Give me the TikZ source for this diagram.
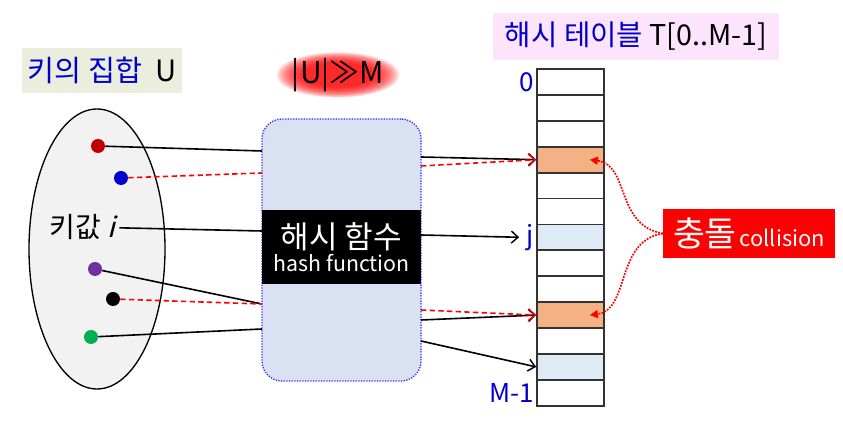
\documentclass[tikz,border=0pt]{standalone}
\usepackage{fontspec}
\setmainfont{Noto Sans CJK KR}
\newfontfamily\slantfont{Noto Sans CJK KR}[FakeSlant=0.25]
\usetikzlibrary{arrows.meta,calc,shapes.geometric}
\definecolor{keyblue}{HTML}{0000CC}
\definecolor{keybg}{HTML}{EBEEDD}
\definecolor{titlebg}{HTML}{FCE4FC}
\definecolor{hashbg}{HTML}{DAE1F3}
\definecolor{hashline}{HTML}{3333FF}
\definecolor{slotorange}{HTML}{F4B183}
\definecolor{slotblue}{HTML}{DEEBF7}
\definecolor{dotred}{HTML}{C00000}
\definecolor{dotblue}{HTML}{0000CC}
\definecolor{dotpurple}{HTML}{7030A0}
\definecolor{dotgreen}{HTML}{00B050}
\tikzset{
  cell/.style={draw=black!80, line width=1.3pt, fill=white, minimum width=50.25pt, minimum height=19.4pt, inner sep=0pt},
  dot/.style={circle, minimum size=10.5pt, inner sep=0pt},
  link/.style={line width=1.2pt},
  clash/.style={red, line width=1.2pt, dash pattern=on 4pt off 2.5pt},
  tip/.style={-{Straight Barb[length=5pt,width=9pt,line width=1.1pt]}},
  lbl/.style={text=keyblue, font=\fontsize{19.5}{21}\selectfont, inner sep=1.5pt}
}
\begin{document}
\begin{tikzpicture}[x=0.75pt,y=-0.75pt]
\useasboundingbox (0,0) rectangle (843,423);
% key set U
\node[fill=keybg, minimum width=120pt, minimum height=33.75pt, inner sep=0pt] (utitle) at (102,70.5) {\fontsize{22}{24}\selectfont\textcolor{keyblue}{키의 집합}\ \ U};
\node[draw, ellipse, line width=1pt, fill=black!5, minimum width=102pt, minimum height=210pt] (uset) at (97,249) {};
\node[dot, fill=dotred] (k1) at (98,146) {};
\node[dot, fill=dotblue] (k2) at (121,178) {};
\node (ki) at (82,227) {\fontsize{21}{23}\selectfont 키값 {\slantfont i}};
\node[dot, fill=dotpurple] (k4) at (95,269) {};
\node[dot, fill=black] (k5) at (113,299) {};
\node[dot, fill=dotgreen] (k6) at (91,337) {};
% |U| >> M with a red glow
\foreach \r in {0,...,13}
  \fill[red, opacity=0.12] (338,75) ellipse [x radius={46pt-1.5pt*\r}, y radius={17pt-0.6pt*\r}];
\node (ratio) at (338,75) {\fontsize{22.5}{24}\selectfont |U|≫M};
% hash function
\node[draw=hashline, densely dotted, line width=1pt, fill=hashbg, rounded corners=15pt, minimum width=119.25pt, minimum height=196.5pt] (hash) at (341.5,250) {};
\node[fill=black, text=white, minimum width=119.25pt, minimum height=55.5pt, inner sep=0pt, align=center] (band) at (341.5,247) {{\fontsize{23.3}{25}\selectfont 해시 함수}\\[1.5pt]{\fontsize{16}{18}\selectfont hash function}};
% hash table
\node[fill=titlebg, minimum width=214.5pt, minimum height=35.25pt, inner sep=0pt] (ttitle) at (636,36.5) {\fontsize{21.5}{23}\selectfont\textcolor{keyblue}{해시 테이블} T[0..M-1]};
\foreach \k in {0,...,12}
  \node[cell] (c\k) at (570.5,{82+25.9*\k}) {};
\foreach \k in {3,9}
  \node[cell, fill=slotorange] at (c\k) {};
\foreach \k in {6,11}
  \node[cell, fill=slotblue] at (c\k) {};
\node[lbl, anchor=east] (l0) at (c0.west) {0};
\node[lbl, anchor=east] (lj) at (c6.west) {j};
\node[lbl, anchor=east] (lm) at (c12.west) {M-1};
% collision
\node[fill=red, text=white, minimum width=129pt, minimum height=36.75pt, inner sep=0pt] (col) at (749,233.5) {{\fontsize{26}{28}\selectfont 충돌}\ {\fontsize{16.4}{18}\selectfont collision}};
% ends on the hash function
\coordinate (h1) at (262,151);
\coordinate (h2) at (262,173);
\coordinate (h3) at (262,231);
\coordinate (h4) at (262,304);
\coordinate (h6) at (262,329);
\coordinate (o1) at (421,157);
\coordinate (o2) at (421,166);
\coordinate (o3) at (421,235);
\coordinate (o4) at (421,310);
\coordinate (o5) at (421,320);
\coordinate (o6) at (421,341);
\draw[link] (k1) -- (h1);
\draw[clash] (k2) -- (h2);
\draw[link] (ki) -- (h3);
\draw[link] (k4) -- (h4);
\draw[clash] (k5) -- (h4);
\draw[link] (k6) -- (h6);
\draw[link, tip] (o1) -- (c3.west);
\draw[clash, tip] (o2) -- (c3.west);
\draw[link, tip, shorten >=4pt] (o3) -- (lj.west);
\draw[link, tip] (o5) -- (c9.west);
\draw[clash, tip] (o4) -- (c9.west);
\draw[link, tip] (o6) -- (c11.west);
\draw[red, densely dotted, line width=1.3pt, -{Triangle[length=6pt,width=6pt]}] (col.west) .. controls (615,225) and (630,165) .. ($(c3.east)+(-15,0)$);
\draw[red, densely dotted, line width=1.3pt, -{Triangle[length=6pt,width=6pt]}] (col.west) .. controls (615,241) and (630,310) .. ($(c9.east)+(-15,0)$);
\end{tikzpicture}
\end{document}
